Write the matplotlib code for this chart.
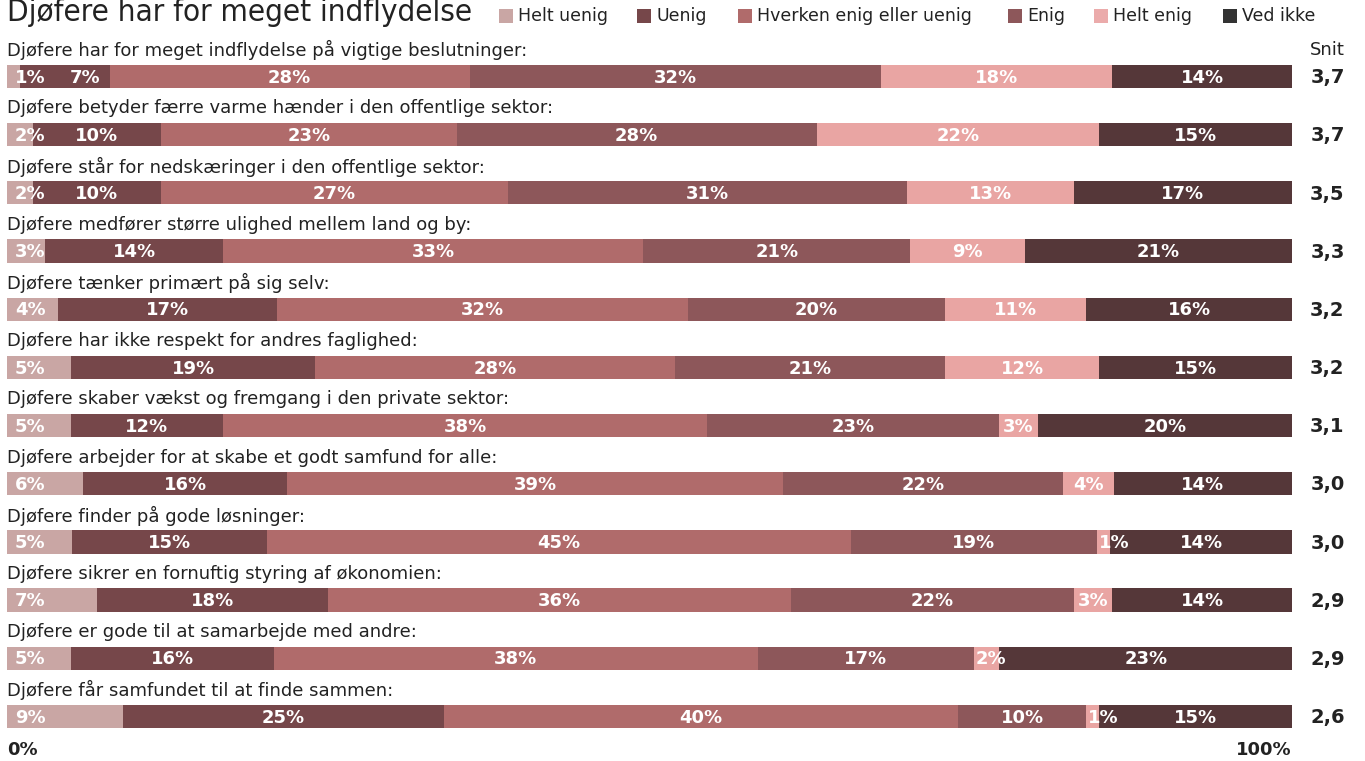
import matplotlib
matplotlib.use("Agg")
import matplotlib.pyplot as plt
from matplotlib.patches import Rectangle
import numpy as np

title = "Djøfere har for meget indflydelse"
categories = [
    "Helt uenig", "Uenig", "Hverken enig eller uenig", "Enig", "Helt enig", "Ved ikke",
]
questions = [
    "Djøfere har for meget indflydelse på vigtige beslutninger:",
    "Djøfere betyder færre varme hænder i den offentlige sektor:",
    "Djøfere står for nedskæringer i den offentlige sektor:",
    "Djøfere medfører større ulighed mellem land og by:",
    "Djøfere tænker primært på sig selv:",
    "Djøfere har ikke respekt for andres faglighed:",
    "Djøfere skaber vækst og fremgang i den private sektor:",
    "Djøfere arbejder for at skabe et godt samfund for alle:",
    "Djøfere finder på gode løsninger:",
    "Djøfere sikrer en fornuftig styring af økonomien:",
    "Djøfere er gode til at samarbejde med andre:",
    "Djøfere får samfundet til at finde sammen:",
]
helt_uenig = [1, 2, 2, 3, 4, 5, 5, 6, 5, 7, 5, 9]
uenig = [7, 10, 10, 14, 17, 19, 12, 16, 15, 18, 16, 25]
hverken = [28, 23, 27, 33, 32, 28, 38, 39, 45, 36, 38, 40]
enig = [32, 28, 31, 21, 20, 21, 23, 22, 19, 22, 17, 10]
helt_enig = [18, 22, 13, 9, 11, 12, 3, 4, 1, 3, 2, 1]
ved_ikke = [14, 15, 17, 21, 16, 15, 20, 14, 14, 14, 23, 15]
snit = ["3,7", "3,7", "3,5", "3,3", "3,2", "3,2", "3,1", "3,0", "3,0", "2,9", "2,9", "2,6"]

bar_colors = ["#c9a6a4", "#76474a", "#b06b6b", "#8d575a", "#e9a5a3", "#553739"]
legend_colors = ["#c9a6a4", "#76474a", "#b06b6b", "#8d575a", "#ebabab", "#333333"]

W, H = 1365, 761
fig = plt.figure(figsize=(W / 100, H / 100), dpi=100)
fig.patch.set_facecolor("white")

# axes: x 0..100 maps pixel 7..1292 ; rows: i -> pixel 76.5 + 58.18*i
x0p, x1p = 7, 1292
step = 58.18
ytop = 76.5 - step
ybot = 76.5 + step * 12
ax = fig.add_axes([x0p / W, 1 - ybot / H, (x1p - x0p) / W, (ybot - ytop) / H])
ax.set_xlim(0, 100)
ax.set_ylim(12, -1)
ax.axis("off")

series = np.array([helt_uenig, uenig, hverken, enig, helt_enig, ved_ikke], dtype=float)
totals = series.sum(axis=0)
norm = series / totals * 100
lefts = np.cumsum(norm, axis=0) - norm
ypos = np.arange(len(questions))
px = 100 / (x1p - x0p)  # data units per pixel

text_color = "#222222"
labels = [[None] * len(categories) for _ in questions]
for k in range(len(categories)):
    ax.barh(ypos, norm[k], left=lefts[k], height=0.40, color=bar_colors[k], linewidth=0)
    for i in range(len(questions)):
        if k == 0:
            xl, ha = lefts[k, i] + 8 * px, "left"
        elif norm[k, i] < 2.5:
            xl, ha = lefts[k, i] + 2 * px, "left"
        else:
            xl, ha = lefts[k, i] + norm[k, i] / 2, "center"
        labels[i][k] = ax.text(xl, ypos[i] + 0.02, f"{int(series[k, i])}%",
                               ha=ha, va="center", color="white", fontsize=13,
                               fontweight="bold", family="DejaVu Sans")

# simple collision avoidance between neighbouring segment labels
renderer = fig.canvas.get_renderer()
min_gap = 24
for i in range(len(questions)):
    for k in range(1, len(categories)):
        prev = labels[i][k - 1].get_window_extent(renderer)
        cur = labels[i][k].get_window_extent(renderer)
        if cur.x0 - prev.x1 < min_gap and labels[i][k].get_ha() == "center":
            shift = (prev.x1 + min_gap - cur.x0) * px
            x, y = labels[i][k].get_position()
            labels[i][k].set_position((x + shift, y))

for i, q in enumerate(questions):
    ax.text(0, ypos[i] - 0.45, q, ha="left", va="center", fontsize=13,
            color=text_color, family="DejaVu Sans")
    ax.text(104.1, ypos[i] + 0.02, snit[i], ha="right", va="center", fontsize=14,
            fontweight="bold", color=text_color, family="DejaVu Sans", clip_on=False)

ax.text(104.1, -0.45, "Snit", ha="right", va="center", fontsize=13,
        color=text_color, family="DejaVu Sans", clip_on=False)
ax.text(0, 11.58, "0%", ha="left", va="center", fontsize=13, fontweight="bold",
        color=text_color, family="DejaVu Sans", clip_on=False)
ax.text(100, 11.58, "100%", ha="right", va="center", fontsize=13, fontweight="bold",
        color=text_color, family="DejaVu Sans", clip_on=False)

# title
fig.text(7 / W, 1 - 21 / H, title, ha="left", va="baseline", fontsize=22.5,
         color=text_color, family=["Liberation Sans Narrow", "DejaVu Sans"],
         fontstretch="condensed")

# legend
sq_x = [499, 637, 738, 1008, 1094, 1223]
for k, cat in enumerate(categories):
    fig.patches.append(Rectangle((sq_x[k] / W, 1 - 23 / H), 14 / W, 14 / H,
                                 transform=fig.transFigure, color=legend_colors[k],
                                 linewidth=0))
    fig.text((sq_x[k] + 19) / W, 1 - 16 / H, cat, ha="left", va="center",
             fontsize=12.5, color=text_color, family="DejaVu Sans")

fig.savefig("out.png", dpi=100, facecolor="white")
